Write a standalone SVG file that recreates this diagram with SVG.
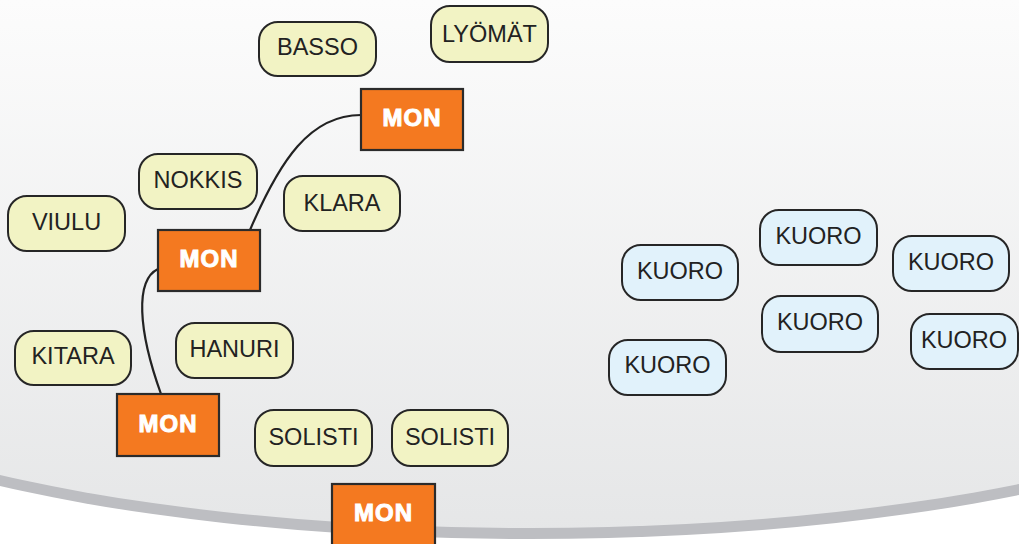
<svg xmlns="http://www.w3.org/2000/svg" width="1019" height="544" viewBox="0 0 1019 544">
<defs>
<linearGradient id="bg" gradientUnits="userSpaceOnUse" x1="0" y1="0" x2="0" y2="540">
<stop offset="0" stop-color="#fcfcfc"/>
<stop offset="1" stop-color="#e5e6e7"/>
</linearGradient>
<style>
.pill{fill:#f2f3c4;stroke:#262626;stroke-width:2}
.blue{fill:#e1f2fb;stroke:#262626;stroke-width:2}
.mon{fill:#f47920;stroke:#2b2b2b;stroke-width:2.2}
.t{font-family:"Liberation Sans",Arial,sans-serif;font-size:23.5px;fill:#222;text-anchor:middle}
.mt{font-family:"Liberation Sans",Arial,sans-serif;font-size:24px;font-weight:bold;fill:#fff;text-anchor:middle;letter-spacing:1px;stroke:#fff;stroke-width:1}
.c{fill:none;stroke:#222;stroke-width:2.2}
</style>
</defs>
<rect width="1019" height="544" fill="#ffffff"/>
<g id="background">
<rect x="0" y="0" width="1019" height="328" fill="#bdbec2"/>
<ellipse cx="530" cy="328" rx="800" ry="211" fill="#bdbec2"/>
<rect x="0" y="0" width="1019" height="317" fill="url(#bg)"/>
<ellipse cx="530" cy="317" rx="800" ry="211" fill="url(#bg)"/>
</g>
<g id="connectors">
<path class="c" d="M250,230 C280,160 310,115 361,115"/>
<path class="c" d="M158,269 C135,280 138,330 161,394"/>
</g>
<g id="basso"><rect class="pill" x="259" y="22" width="117" height="54" rx="19"/><text class="t" x="317.5" y="55">BASSO</text></g>
<g id="lyomat"><rect class="pill" x="431" y="6" width="117" height="56" rx="19"/><text class="t" x="489.5" y="42">LYÖMÄT</text></g>
<g id="mon1"><rect class="mon" x="361" y="89" width="102" height="61"/><text class="mt" x="412" y="126">MON</text></g>
<g id="nokkis"><rect class="pill" x="139" y="154" width="118" height="55" rx="19"/><text class="t" x="198" y="188">NOKKIS</text></g>
<g id="klara"><rect class="pill" x="284" y="176" width="116" height="55" rx="19"/><text class="t" x="342" y="211">KLARA</text></g>
<g id="viulu"><rect class="pill" x="8" y="196" width="117" height="55" rx="19"/><text class="t" x="66.5" y="230">VIULU</text></g>
<g id="mon2"><rect class="mon" x="158" y="230" width="102" height="61"/><text class="mt" x="209" y="267">MON</text></g>
<g id="kitara"><rect class="pill" x="15" y="331" width="116" height="54" rx="19"/><text class="t" x="73" y="364">KITARA</text></g>
<g id="hanuri"><rect class="pill" x="176" y="323" width="117" height="55" rx="19"/><text class="t" x="234.5" y="357">HANURI</text></g>
<g id="mon3"><rect class="mon" x="117" y="394" width="102" height="62"/><text class="mt" x="168" y="432">MON</text></g>
<g id="solisti1"><rect class="pill" x="255" y="410" width="117" height="56" rx="19"/><text class="t" x="313.5" y="445">SOLISTI</text></g>
<g id="solisti2"><rect class="pill" x="392" y="410" width="116" height="56" rx="19"/><text class="t" x="450" y="445">SOLISTI</text></g>
<g id="mon4"><rect class="mon" x="332" y="484" width="103" height="70"/><text class="mt" x="383.5" y="521">MON</text></g>
<g id="kuoro1"><rect class="blue" x="622" y="245" width="116" height="55" rx="19"/><text class="t" x="680" y="279">KUORO</text></g>
<g id="kuoro2"><rect class="blue" x="760" y="210" width="117" height="55" rx="19"/><text class="t" x="818.5" y="244">KUORO</text></g>
<g id="kuoro3"><rect class="blue" x="893" y="236" width="116" height="55" rx="19"/><text class="t" x="951" y="270">KUORO</text></g>
<g id="kuoro4"><rect class="blue" x="762" y="296" width="116" height="56" rx="19"/><text class="t" x="820" y="330">KUORO</text></g>
<g id="kuoro5"><rect class="blue" x="911" y="314" width="107" height="55" rx="19"/><text class="t" x="964" y="348">KUORO</text></g>
<g id="kuoro6"><rect class="blue" x="609" y="340" width="117" height="55" rx="19"/><text class="t" x="667.5" y="373">KUORO</text></g>
</svg>
